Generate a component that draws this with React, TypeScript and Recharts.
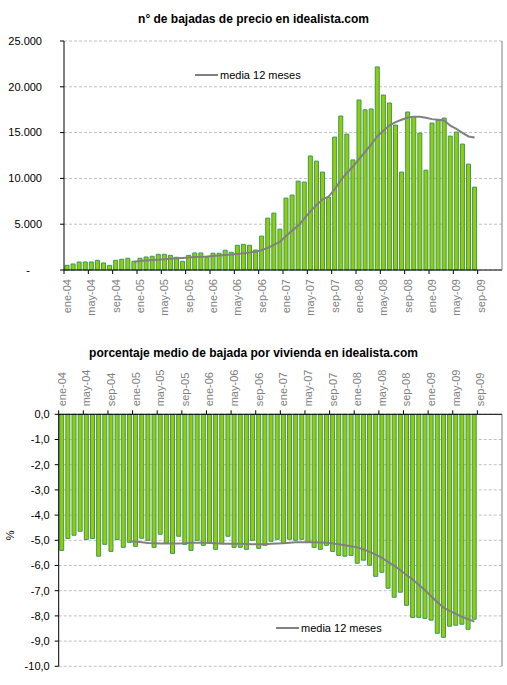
import { ComposedChart, Bar, Line, XAxis, YAxis, CartesianGrid } from "recharts";

const FONT = "'Liberation Sans', Arial, Helvetica, sans-serif";
const BAR_FILL = "#99cc00";
const BAR_STROKE = "#339966";
const LINE_COLOR = "#808080";
const GRID_COLOR = "#c0c0c0";

// ene-04 .. dic-09, bars stop at ago-09
const MONTHS = ["ene", "feb", "mar", "abr", "may", "jun", "jul", "ago", "sep", "oct", "nov", "dic"];
const YEARS = ["04", "05", "06", "07", "08", "09"];

// nº de bajadas de precio (monthly)
const bajadas = [
  510, 660, 875, 875, 875, 1060, 770, 510, 1060, 1170, 1280, 950,
  1280, 1420, 1500, 1715, 1715, 1600, 1390, 950, 1600, 1860, 1860, 1390,
  1830, 1830, 2150, 1940, 2700, 2800, 2700, 2180, 3700, 5660, 6210, 4460,
  7850, 8180, 9700, 9600, 12450, 11890, 10690, 7960, 14510, 16810, 14840, 12020,
  18560, 17490, 17580, 22170, 19100, 18230, 15820, 10690, 17250, 16760, 14950, 10900,
  16040, 16320, 16590, 14620, 15060, 13750, 11560, 9050,
];

const mediaBajadas = [
  null, null, null, null, null, null, null, null, null, null, null, 910,
  980, 1030, 1080, 1130, 1180, 1230, 1270, 1310, 1360, 1410, 1450, 1480,
  1530, 1580, 1630, 1680, 1750, 1820, 1900, 2000, 2180, 2420, 2750, 3080,
  3720, 4300, 4850, 5600, 6400, 7100, 7700, 8020, 8800, 9800, 10600, 11300,
  12100, 12900, 13700, 14600, 15200, 15800, 16150, 16400, 16650, 16720, 16720, 16620,
  16470, 16400, 16320, 15770, 15400, 14980, 14580, 14470,
];

// porcentaje medio de bajada por vivienda (%)
const porcentaje = [
  -5.4, -4.93, -4.8, -4.64, -4.97, -4.93, -5.63, -5.16, -5.44, -4.97, -5.28, -5.08,
  -5.24, -4.92, -5.0, -5.28, -4.76, -5.1, -5.52, -4.84, -5.16, -5.4, -5.0, -5.2,
  -5.08, -5.36, -5.12, -4.84, -5.28, -5.28, -5.36, -5.0, -5.32, -5.2, -5.04, -4.96,
  -5.12, -4.96, -5.0, -4.96, -5.08, -5.28, -5.36, -5.2, -5.44, -5.6, -5.63, -5.6,
  -5.91, -5.79, -5.99, -6.43, -6.27, -6.9, -7.26, -7.06, -7.58, -8.06, -8.06, -8.1,
  -8.17, -8.69, -8.85, -8.41, -8.37, -8.33, -8.53, -8.13,
];

const mediaPorcentaje = [
  null, null, null, null, null, null, null, null, null, null, null, -5.05,
  -5.05, -5.08, -5.11, -5.12, -5.13, -5.13, -5.13, -5.13, -5.12, -5.1, -5.1, -5.1,
  -5.11, -5.12, -5.14, -5.14, -5.14, -5.14, -5.15, -5.16, -5.16, -5.16, -5.14, -5.13,
  -5.12, -5.1, -5.08, -5.08, -5.08, -5.08, -5.09, -5.1, -5.13, -5.16, -5.2, -5.24,
  -5.28, -5.36, -5.46, -5.57, -5.7, -5.86, -6.01, -6.19, -6.38, -6.56, -6.77, -6.98,
  -7.22, -7.46, -7.67, -7.8, -7.92, -8.04, -8.13, -8.23,
];

const topTicks = [0, 5000, 10000, 15000, 20000, 25000];
const bottomTicks = [-10, -9, -8, -7, -6, -5, -4, -3, -2, -1, 0];

const categories = YEARS.flatMap((y) => MONTHS.map((m) => `${m}-${y}`));
const data = categories.map((mes, i) => ({
  mes,
  bajadas: bajadas[i] ?? null,
  mediaBajadas: mediaBajadas[i] ?? null,
  porcentaje: porcentaje[i] ?? null,
  mediaPorcentaje: mediaPorcentaje[i] ?? null,
}));

const thousands = (v: number) => String(v).replace(/\B(?=(\d{3})+(?!\d))/g, ".");

function BottomAxisTick({ x, y, payload }: any) {
  const half = payload.offset ?? 3;
  return (
    <g>
      <line x1={x - half} x2={x - half} y1={y} y2={y + 4} stroke="#000" />
      <text
        x={x}
        y={y + 9}
        transform={`rotate(-90 ${x} ${y + 9})`}
        textAnchor="end"
        dy="0.35em"
        fill="#808080"
        fontSize={11}
        fontFamily={FONT}
      >
        {payload.value}
      </text>
    </g>
  );
}

function TopAxisTick({ x, y, payload }: any) {
  const half = payload.offset ?? 3;
  return (
    <g>
      <line x1={x - half} x2={x - half} y1={y} y2={y - 4} stroke="#000" />
      <text
        x={x}
        y={y - 8}
        transform={`rotate(-90 ${x} ${y - 8})`}
        textAnchor="start"
        dy="0.35em"
        fill="#808080"
        fontSize={11}
        fontFamily={FONT}
      >
        {payload.value}
      </text>
    </g>
  );
}

function CountTick({ x, y, payload }: any) {
  const zero = payload.value === 0;
  return (
    <text x={zero ? x - 12 : x} y={y} dy="0.35em" textAnchor="end" fill="#000" fontSize={11} fontFamily={FONT}>
      {zero ? "-" : thousands(payload.value)}
    </text>
  );
}

function PctTick({ x, y, payload }: any) {
  return (
    <text x={x} y={y} dy="0.35em" textAnchor="end" fill="#000" fontSize={11} fontFamily={FONT}>
      {payload.value.toFixed(1).replace(".", ",")}
    </text>
  );
}

function LegendBox({ left, top }: { left: number; top: number }) {
  return (
    <div
      style={{
        position: "absolute",
        left,
        top,
        height: 14,
        display: "flex",
        alignItems: "center",
        fontFamily: FONT,
        fontSize: 11,
        color: "#000",
        whiteSpace: "nowrap",
      }}
    >
      <span style={{ display: "inline-block", width: 23, height: 2, background: LINE_COLOR, marginRight: 2 }} />
      <span>media 12 meses</span>
    </div>
  );
}

const titleStyle: React.CSSProperties = {
  position: "absolute",
  left: 0,
  width: 507,
  textAlign: "center",
  fontFamily: FONT,
  fontSize: 12,
  fontWeight: "bold",
  lineHeight: "14px",
  color: "#000",
};

export default function App() {
  return (
    <div style={{ position: "absolute", left: 0, top: 0, width: 507, height: 685, background: "#fff" }}>
      <div style={{ ...titleStyle, top: 12 }}>n° de bajadas de precio en idealista.com</div>

      <div style={{ position: "absolute", left: 0, top: 0 }}>
        <ComposedChart width={507} height={330} data={data} margin={{ top: 41, right: 4, left: 8, bottom: 0 }}>
          <CartesianGrid vertical={false} stroke={GRID_COLOR} strokeDasharray="3 2" />
          <XAxis
            dataKey="mes"
            interval={3}
            height={60}
            stroke="#000"
            tickLine={false}
            tickSize={0}
            tickMargin={0}
            tick={<BottomAxisTick />}
          />
          <XAxis xAxisId="border" orientation="top" height={0} tick={false} tickLine={false} stroke={LINE_COLOR} />
          <YAxis
            domain={[0, 25000]}
            ticks={topTicks}
            width={56}
            stroke="#000"
            tickSize={4}
            tickMargin={18}
            tick={<CountTick />}
          />
          <YAxis yAxisId="border" orientation="right" width={1} tick={false} tickLine={false} stroke={LINE_COLOR} />
          <Bar dataKey="bajadas" fill={BAR_FILL} stroke={BAR_STROKE} strokeWidth={1} barSize={4} isAnimationActive={false} />
          <Line
            dataKey="mediaBajadas"
            type="linear"
            stroke={LINE_COLOR}
            strokeWidth={2}
            dot={false}
            activeDot={false}
            isAnimationActive={false}
          />
        </ComposedChart>
      </div>
      <LegendBox left={195} top={68} />

      <div style={{ ...titleStyle, top: 346 }}>porcentaje medio de bajada por vivienda en idealista.com</div>

      <div style={{ position: "absolute", left: 0, top: 330 }}>
        <ComposedChart width={507} height={355} data={data} margin={{ top: 0, right: 4, left: 4, bottom: 18.7 }}>
          <CartesianGrid vertical={false} stroke={GRID_COLOR} strokeDasharray="3 2" />
          <XAxis
            dataKey="mes"
            orientation="top"
            interval={3}
            height={84.3}
            stroke="#000"
            tickLine={false}
            tickSize={0}
            tickMargin={0}
            tick={<TopAxisTick />}
          />
          <XAxis xAxisId="border" orientation="bottom" height={0} tick={false} tickLine={false} stroke={LINE_COLOR} />
          <YAxis
            domain={[-10, 0]}
            ticks={bottomTicks}
            width={54.7}
            stroke="#000"
            tickSize={4}
            tickMargin={5}
            tick={<PctTick />}
            label={{ value: "%", angle: -90, position: "insideLeft", offset: 6, fill: "#000", fontSize: 11, fontFamily: FONT }}
          />
          <YAxis yAxisId="border" orientation="right" width={1} tick={false} tickLine={false} stroke={LINE_COLOR} />
          <Bar dataKey="porcentaje" fill={BAR_FILL} stroke={BAR_STROKE} strokeWidth={1} barSize={4} isAnimationActive={false} />
          <Line
            dataKey="mediaPorcentaje"
            type="linear"
            stroke={LINE_COLOR}
            strokeWidth={2}
            dot={false}
            activeDot={false}
            isAnimationActive={false}
          />
        </ComposedChart>
      </div>
      <LegendBox left={276} top={621} />
    </div>
  );
}
